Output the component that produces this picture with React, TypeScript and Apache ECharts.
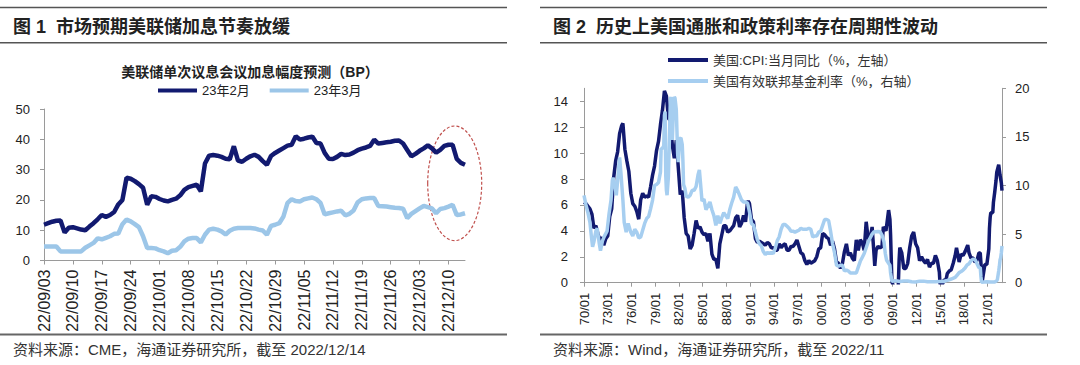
import React, { useEffect, useRef } from "react";
import * as echarts from "echarts";

// ---------- Chart 1 data (daily, 22/09/03 .. 22/12/14) ----------
const c1Start = "2022-09-03";
const c1Days = 103;
const feb23: number[] = [
  11.8, 12.3, 12.8, 13.1, 13.2, 9.2, 10.8, 11.0, 10.6, 10.2,
  10.0, 11.2, 12.3, 13.6, 15.0, 14.4, 15.0, 16.0, 18.5, 20.0,
  27.3, 27.0, 26.2, 25.2, 24.0, 18.4, 21.2, 21.0, 20.3, 19.8,
  19.5, 20.0, 20.4, 21.5, 23.3, 24.2, 24.6, 25.0, 22.8, 32.0,
  34.6, 34.8, 34.6, 34.2, 33.6, 33.4, 37.7, 33.0, 32.6, 33.6,
  34.4, 34.9, 34.2, 32.8, 31.6, 34.5, 35.5, 36.3, 37.1, 37.9,
  38.2, 41.0, 39.9, 40.2, 40.6, 40.9, 38.8, 38.6, 35.5, 33.6,
  33.5, 34.2, 35.2, 34.8, 35.0, 35.6, 36.4, 36.9, 37.3, 37.8,
  39.9, 38.6, 38.8, 39.0, 39.2, 39.5, 39.6, 38.6, 36.5, 34.4,
  35.2, 36.2, 37.0, 38.0, 37.0, 35.6, 36.5, 37.8, 38.2, 38.2,
  33.5, 32.2, 31.6,
];
const mar23: number[] = [
  4.6, 4.6, 4.6, 4.6, 3.0, 3.0, 3.0, 3.0, 3.0, 3.0,
  4.2, 5.0, 5.8, 7.3, 7.0, 7.5, 8.0, 8.8, 8.9, 12.0,
  13.5, 12.9, 12.0, 11.0, 8.0, 4.1, 4.1, 4.0, 3.4, 3.0,
  2.4, 3.2, 3.4, 4.5, 6.3, 7.2, 7.4, 7.4, 6.0, 8.5,
  10.2, 10.5, 10.2, 9.6, 8.6, 9.8, 10.5, 10.7, 10.7, 10.7,
  10.7, 10.6, 10.2, 9.9, 8.5, 11.4, 11.8, 12.3, 14.5, 19.0,
  20.2, 19.6, 19.5, 20.2, 20.5, 20.8, 20.2, 19.0, 15.2, 15.6,
  15.9, 16.2, 16.4, 14.9, 15.4, 16.5, 19.2, 20.2, 20.5, 20.6,
  20.6, 18.0, 17.9, 17.8, 17.6, 17.4, 17.3, 17.1, 14.0, 15.4,
  16.3, 17.2, 18.0, 17.6, 17.2, 15.6, 17.0, 17.3, 17.8, 18.4,
  15.0, 15.2, 15.6,
];

// ---------- Chart 2 data ----------
const cpiDates: string[] = [
  "1970-01","1970-04","1970-07","1970-10","1971-01","1971-04","1971-07","1971-10","1972-01","1972-04","1972-07","1972-10",
  "1973-01","1973-04","1973-07","1973-10","1974-01","1974-04","1974-07","1974-10","1974-12","1975-03","1975-06","1975-09","1975-12",
  "1976-03","1976-06","1976-09","1976-12","1977-03","1977-06","1977-09","1977-12","1978-03","1978-06","1978-09","1978-12",
  "1979-03","1979-06","1979-09","1979-12","1980-03","1980-06","1980-09","1980-12","1981-03","1981-06","1981-09","1981-12",
  "1982-03","1982-06","1982-09","1982-12","1983-03","1983-06","1983-09","1983-12","1984-03","1984-06","1984-09","1984-12",
  "1985-03","1985-06","1985-09","1985-12","1986-03","1986-06","1986-09","1986-12","1987-03","1987-06","1987-09","1987-12",
  "1988-03","1988-06","1988-09","1988-12","1989-03","1989-06","1989-09","1989-12","1990-03","1990-06","1990-09","1990-10","1990-12",
  "1991-03","1991-06","1991-09","1991-12","1992-03","1992-06","1992-09","1992-12","1993-03","1993-06","1993-09","1993-12",
  "1994-03","1994-06","1994-09","1994-12","1995-03","1995-06","1995-09","1995-12","1996-03","1996-06","1996-09","1996-12",
  "1997-03","1997-06","1997-09","1997-12","1998-03","1998-06","1998-09","1998-12","1999-03","1999-06","1999-09","1999-12",
  "2000-03","2000-06","2000-09","2000-12","2001-03","2001-06","2001-09","2001-12","2002-03","2002-06","2002-09","2002-12",
  "2003-03","2003-06","2003-09","2003-12","2004-03","2004-06","2004-09","2004-12","2005-03","2005-06","2005-09","2005-12",
  "2006-03","2006-06","2006-09","2006-10","2006-12","2007-03","2007-06","2007-09","2007-11","2008-03","2008-07","2008-09","2008-10","2008-12",
  "2009-03","2009-07","2009-09","2009-11","2009-12","2010-03","2010-06","2010-09","2010-12","2011-03","2011-06","2011-09","2011-12",
  "2012-03","2012-06","2012-09","2012-12","2013-03","2013-06","2013-09","2013-12","2014-03","2014-06","2014-09","2014-12",
  "2015-01","2015-04","2015-07","2015-10","2015-12","2016-03","2016-06","2016-09","2016-12","2017-02","2017-06","2017-09","2017-12",
  "2018-03","2018-07","2018-09","2018-12","2019-03","2019-06","2019-09","2019-12","2020-02","2020-05","2020-09","2020-12",
  "2021-03","2021-04","2021-05","2021-06","2021-09","2021-10","2021-12","2022-02","2022-03","2022-06","2022-08","2022-10","2022-11",
];
const cpiValues: number[] = [
  6.2,6.1,5.9,5.7,5.3,4.2,4.4,3.8,3.3,3.5,2.9,3.4,
  3.6,5.1,5.7,8.1,9.4,10.1,11.5,12.1,12.3,10.3,9.4,8.6,6.9,
  6.1,5.9,5.5,4.9,6.4,6.9,6.6,6.7,6.6,7.4,8.3,9.0,
  10.2,10.9,12.2,13.3,14.8,14.4,12.7,12.5,10.6,9.6,11.0,8.9,
  6.8,7.1,5.0,3.8,3.6,2.6,2.9,3.8,4.8,4.2,4.3,3.9,
  3.7,3.8,3.2,3.8,2.2,1.8,1.8,1.1,3.0,3.7,4.4,4.4,
  3.9,4.0,4.2,4.4,5.0,5.2,4.3,4.6,5.2,4.7,6.2,6.3,6.1,
  4.9,4.7,3.4,3.1,3.2,3.1,3.0,2.9,3.1,3.0,2.7,2.7,
  2.5,2.5,3.0,2.7,2.9,3.0,2.5,2.5,2.8,2.8,3.0,3.3,
  2.8,2.3,2.2,1.7,1.4,1.7,1.5,1.6,1.7,2.0,2.6,2.7,
  3.8,3.7,3.5,3.4,2.9,3.2,2.6,1.6,1.5,1.1,1.5,2.4,
  3.0,2.1,2.3,1.9,1.7,3.3,2.5,3.3,3.1,2.5,4.7,3.4,
  3.4,4.3,2.1,1.3,2.5,2.8,2.7,2.8,4.3,4.0,5.6,4.9,3.7,0.1,
  -0.4,-2.1,-1.3,1.8,2.7,2.3,1.1,1.1,1.5,2.7,3.6,3.9,3.0,
  2.7,1.7,2.0,1.7,1.5,1.8,1.2,1.5,1.5,2.1,1.7,0.8,
  -0.1,-0.2,0.2,0.2,0.7,0.9,1.0,1.5,2.1,2.7,1.6,2.2,2.1,
  2.4,2.9,2.3,1.9,1.9,1.6,1.7,2.3,2.3,0.1,1.4,1.4,
  2.6,4.2,5.0,5.4,5.4,6.2,7.0,7.9,8.5,9.1,8.3,7.7,7.1,
];
const ffrDates: string[] = [
  "1970-01","1970-04","1970-07","1970-10","1970-12","1971-02","1971-04","1971-07","1971-09","1971-12",
  "1972-02","1972-05","1972-08","1972-12","1973-03","1973-06","1973-08","1973-09","1973-12",
  "1974-02","1974-04","1974-07","1974-09","1974-12","1975-02","1975-05","1975-08","1975-12",
  "1976-03","1976-06","1976-09","1976-12","1977-03","1977-06","1977-09","1977-12","1978-03","1978-06","1978-09","1978-12",
  "1979-03","1979-06","1979-09","1979-10","1979-12","1980-02","1980-03","1980-04","1980-05","1980-06","1980-07","1980-09","1980-11","1980-12",
  "1981-01","1981-03","1981-05","1981-06","1981-07","1981-09","1981-11","1981-12",
  "1982-02","1982-04","1982-06","1982-07","1982-08","1982-10","1982-12","1983-03","1983-06","1983-09","1983-12",
  "1984-03","1984-06","1984-08","1984-10","1984-12","1985-03","1985-06","1985-09","1985-12",
  "1986-03","1986-06","1986-09","1986-12","1987-03","1987-06","1987-09","1987-12","1988-03","1988-06","1988-09","1988-12",
  "1989-03","1989-06","1989-09","1989-12","1990-03","1990-06","1990-09","1990-12","1991-03","1991-06","1991-09","1991-12",
  "1992-03","1992-06","1992-09","1992-12","1993-03","1993-06","1993-09","1993-12","1994-03","1994-06","1994-09","1994-12",
  "1995-03","1995-06","1995-09","1995-12","1996-03","1996-06","1996-09","1996-12","1997-03","1997-06","1997-09","1997-12",
  "1998-03","1998-06","1998-09","1998-12","1999-03","1999-06","1999-09","1999-12","2000-03","2000-06","2000-09","2000-12",
  "2001-03","2001-06","2001-09","2001-12","2002-03","2002-06","2002-09","2002-12","2003-03","2003-06","2003-09","2003-12",
  "2004-03","2004-06","2004-09","2004-12","2005-03","2005-06","2005-09","2005-12","2006-03","2006-06","2006-09","2006-12",
  "2007-03","2007-06","2007-09","2007-12","2008-02","2008-04","2008-07","2008-09","2008-10","2008-12",
  "2009-06","2009-12","2010-06","2010-12","2011-06","2011-12","2012-06","2012-12","2013-06","2013-12","2014-06","2014-12",
  "2015-06","2015-12","2016-06","2016-12","2017-03","2017-06","2017-09","2017-12","2018-03","2018-06","2018-09","2018-12",
  "2019-03","2019-06","2019-08","2019-10","2019-12","2020-02","2020-03","2020-04","2020-12","2021-06","2021-12",
  "2022-03","2022-04","2022-05","2022-06","2022-07","2022-08","2022-09","2022-10","2022-11",
];
const ffrValues: number[] = [
  8.98,8.0,7.2,6.2,4.9,3.7,4.2,5.3,5.6,4.1,
  3.3,4.3,4.8,5.3,7.1,8.5,10.5,10.8,9.95,
  9.0,10.5,12.9,11.3,8.5,6.2,5.2,6.1,5.2,
  4.8,5.5,5.2,4.6,4.7,5.4,6.1,6.6,6.8,7.6,8.5,10.0,
  10.1,10.3,11.4,13.8,13.8,14.1,17.2,17.6,11.0,9.5,9.0,10.9,15.9,18.9,
  19.1,14.7,18.5,19.1,19.0,17.8,13.3,12.4,
  14.8,14.9,14.2,12.6,10.1,9.7,8.9,8.8,9.0,9.5,9.5,
  9.9,11.1,11.6,10.0,8.4,8.6,7.5,7.9,8.3,
  7.5,6.9,5.9,6.9,6.1,6.7,7.2,6.9,6.6,7.5,8.2,8.8,
  9.85,9.5,9.0,8.5,8.3,8.3,8.2,7.3,6.1,5.9,5.2,4.4,
  4.0,3.8,3.2,2.9,3.1,3.0,3.1,3.0,3.5,4.3,4.7,5.5,
  6.0,6.0,5.8,5.6,5.3,5.3,5.2,5.3,5.4,5.6,5.5,5.5,
  5.5,5.6,5.5,4.7,4.8,4.8,5.2,5.3,5.9,6.5,6.5,6.4,
  5.3,4.0,3.1,1.8,1.7,1.8,1.8,1.2,1.3,1.2,1.0,1.0,
  1.0,1.0,1.6,2.2,2.6,3.0,3.6,4.2,4.6,5.0,5.25,5.24,
  5.26,5.25,4.9,4.2,3.0,2.3,2.0,1.8,1.0,0.16,
  0.2,0.12,0.18,0.18,0.09,0.07,0.16,0.16,0.09,0.09,0.1,0.12,
  0.13,0.24,0.38,0.54,0.79,1.04,1.15,1.3,1.51,1.82,1.95,2.27,
  2.41,2.38,2.13,1.83,1.55,1.58,0.65,0.05,0.09,0.08,0.08,
  0.2,0.33,0.77,1.21,1.68,2.33,2.56,3.08,3.78,
];

const DARK = "#121a70";
const LIGHT1 = "#9cc6e8";
const LIGHT2 = "#a6cef0";
const AXIS = "#9a9a9a";
const FONT = '"Liberation Sans", Arial, "Noto Sans CJK SC", sans-serif';

function buildDays(start: string, n: number): string[] {
  const out: string[] = [];
  const d0 = new Date(start + "T00:00:00Z");
  for (let i = 0; i < n; i++) {
    const d = new Date(d0.getTime() + i * 86400000);
    const yy = String(d.getUTCFullYear() % 100).padStart(2, "0");
    const mm = String(d.getUTCMonth() + 1).padStart(2, "0");
    const dd = String(d.getUTCDate()).padStart(2, "0");
    out.push(`${yy}/${mm}/${dd}`);
  }
  return out;
}
const toMonth = (s: string) => {
  const [y, m] = s.split("-").map(Number);
  return (y - 1970) * 12 + (m - 1);
};

export default function App() {
  const ref = useRef<HTMLDivElement>(null);
  useEffect(() => {
    if (!ref.current) return;
    const chart = echarts.init(ref.current, undefined, { renderer: "svg" });
    const days = buildDays(c1Start, c1Days);
    const cpi = cpiDates.map((d, i) => [toMonth(d), cpiValues[i]]);
    const ffr = ffrDates.map((d, i) => [toMonth(d), ffrValues[i]]);
    const lastMonth = toMonth("2022-11");

    const axisLine = { show: true, lineStyle: { color: AXIS, width: 1 } };
    const axisTick = { show: true, length: 4, lineStyle: { color: AXIS } };

    const option: any = {
      animation: false,
      backgroundColor: "#ffffff",
      textStyle: { fontFamily: FONT },
      legend: [
        {
          data: ["23年2月", "23年3月"],
          left: 158,
          top: 84,
          itemWidth: 39,
          itemHeight: 4,
          itemGap: 20,
          icon: "rect",
          padding: 0,
          textStyle: { fontSize: 13, color: "#222", fontFamily: FONT },
        },
        {
          data: ["美国:CPI:当月同比（%，左轴）", "美国有效联邦基金利率（%，右轴）"],
          orient: "vertical",
          left: 668,
          top: 53,
          itemWidth: 40,
          itemHeight: 4,
          itemGap: 7,
          icon: "rect",
          padding: 0,
          textStyle: { fontSize: 13, color: "#333", fontFamily: FONT, lineHeight: 14 },
        },
      ],
      grid: [
        { left: 44, top: 109, width: 421, height: 151.5, containLabel: false },
        { left: 584, top: 88.3, width: 418, height: 194.4, containLabel: false },
      ],
      xAxis: [
        {
          type: "category",
          gridIndex: 0,
          data: days,
          boundaryGap: false,
          axisLine,
          axisTick: { ...axisTick, interval: 6 },
          axisLabel: {
            interval: 6,
            rotate: 90,
            fontSize: 16,
            color: "#222",
            margin: 9,
            fontFamily: FONT,
          },
        },
        {
          type: "value",
          gridIndex: 1,
          min: 0,
          max: lastMonth,
          interval: 36,
          splitLine: { show: false },
          axisLine,
          axisTick,
          axisLabel: {
            rotate: 90,
            fontSize: 13,
            color: "#222",
            margin: 10,
            showMaxLabel: false,
            fontFamily: FONT,
            formatter: (v: number) =>
              String((1970 + Math.round(v / 12)) % 100).padStart(2, "0") + "/01",
          },
        },
      ],
      yAxis: [
        {
          type: "value",
          gridIndex: 0,
          min: 0,
          max: 50,
          interval: 10,
          splitLine: { show: false },
          axisLine,
          axisTick,
          axisLabel: { fontSize: 13, color: "#222", margin: 14, fontFamily: FONT },
        },
        {
          type: "value",
          gridIndex: 1,
          min: 0,
          max: 15,
          interval: 2,
          splitLine: { show: false },
          axisLine,
          axisTick,
          axisLabel: {
            fontSize: 13,
            color: "#222",
            margin: 16,
            showMaxLabel: false,
            fontFamily: FONT,
          },
        },
        {
          type: "value",
          gridIndex: 1,
          position: "right",
          min: 0,
          max: 20,
          interval: 5,
          splitLine: { show: false },
          axisLine,
          axisTick,
          axisLabel: { fontSize: 13, color: "#222", margin: 13, fontFamily: FONT },
        },
      ],
      series: [
        {
          name: "23年3月",
          type: "line",
          xAxisIndex: 0,
          yAxisIndex: 0,
          data: mar23,
          showSymbol: false,
          symbol: "none",
          lineStyle: { color: LIGHT1, width: 4.5 },
          itemStyle: { color: LIGHT1 },
        },
        {
          name: "23年2月",
          type: "line",
          xAxisIndex: 0,
          yAxisIndex: 0,
          data: feb23,
          showSymbol: false,
          symbol: "none",
          lineStyle: { color: DARK, width: 4.5 },
          itemStyle: { color: DARK },
        },
        {
          name: "美国:CPI:当月同比（%，左轴）",
          type: "line",
          xAxisIndex: 1,
          yAxisIndex: 1,
          data: cpi,
          showSymbol: false,
          symbol: "none",
          clip: true,
          lineStyle: { color: DARK, width: 3.5 },
          itemStyle: { color: DARK },
        },
        {
          name: "美国有效联邦基金利率（%，右轴）",
          type: "line",
          xAxisIndex: 1,
          yAxisIndex: 2,
          data: ffr,
          showSymbol: false,
          symbol: "none",
          clip: true,
          lineStyle: { color: LIGHT2, width: 3.5 },
          itemStyle: { color: LIGHT2 },
        },
      ],
      graphic: [
        // Panel 1 frame lines and texts
        { type: "line", shape: { x1: 0, y1: 7.5, x2: 507, y2: 7.5 }, style: { stroke: "#555", lineWidth: 1.5 } },
        { type: "line", shape: { x1: 0, y1: 42.7, x2: 507, y2: 42.7 }, style: { stroke: "#555", lineWidth: 1.5 } },
        { type: "line", shape: { x1: 0, y1: 334.5, x2: 507, y2: 334.5 }, style: { stroke: "#666", lineWidth: 2 } },
        {
          type: "text",
          x: 13,
          y: 26.5,
          style: { text: "图 1  市场预期美联储加息节奏放缓", font: `bold 18px ${FONT}`, fill: "#222", textVerticalAlign: "middle" },
        },
        {
          type: "text",
          x: 250,
          y: 72,
          style: { text: "美联储单次议息会议加息幅度预测（BP）", font: `bold 14px ${FONT}`, fill: "#222", textAlign: "center", textVerticalAlign: "middle" },
        },
        {
          type: "text",
          x: 13,
          y: 349,
          style: { text: "资料来源：CME，海通证券研究所，截至 2022/12/14", font: `15px ${FONT}`, fill: "#333", textVerticalAlign: "middle" },
        },
        {
          type: "ellipse",
          shape: { cx: 454.7, cy: 183.3, rx: 27, ry: 57.3 },
          style: { fill: "none", stroke: "#c0504d", lineWidth: 1.2, lineDash: [3, 2] },
        },
        // Panel 2
        { type: "line", shape: { x1: 540, y1: 7.5, x2: 1047, y2: 7.5 }, style: { stroke: "#555", lineWidth: 1.5 } },
        { type: "line", shape: { x1: 540, y1: 42.7, x2: 1047, y2: 42.7 }, style: { stroke: "#555", lineWidth: 1.5 } },
        { type: "line", shape: { x1: 540, y1: 334.5, x2: 1047, y2: 334.5 }, style: { stroke: "#666", lineWidth: 2 } },
        {
          type: "text",
          x: 553,
          y: 26.5,
          style: { text: "图 2  历史上美国通胀和政策利率存在周期性波动", font: `bold 18px ${FONT}`, fill: "#222", textVerticalAlign: "middle" },
        },
        {
          type: "text",
          x: 553,
          y: 349,
          style: { text: "资料来源：Wind，海通证券研究所，截至 2022/11", font: `15px ${FONT}`, fill: "#333", textVerticalAlign: "middle" },
        },
      ],
    };
    chart.setOption(option);
    return () => chart.dispose();
  }, []);
  return (
    <div
      ref={ref}
      style={{ position: "fixed", left: 0, top: 0, width: 1080, height: 365, background: "#fff" }}
    />
  );
}
